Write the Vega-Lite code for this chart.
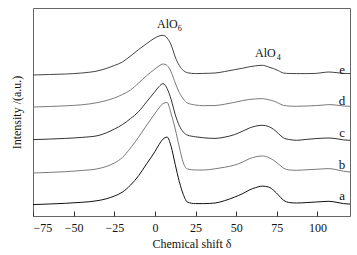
{
  "$schema": "https://vega.github.io/schema/vega-lite/v6.json",
  "width": 317,
  "height": 208,
  "autosize": {"type": "none"},
  "padding": {"left": 33, "top": 8, "right": 7, "bottom": 39},
  "background": "white",
  "config": {
    "view": {"stroke": "#666", "strokeWidth": 1},
    "font": "Liberation Serif",
    "text": {"font": "Liberation Serif"},
    "axis": {"labelFont": "Liberation Serif", "titleFont": "Liberation Serif", "labelFontSize": 12, "titleFontSize": 12, "titleFontWeight": "normal", "labelColor": "#111", "titleColor": "#111"}
  },
  "datasets": {
    "spectra": [
      {"shift": -75, "a": 11.4, "b": 43, "c": 76.4, "d": 109, "e": 141},
      {"shift": -65, "a": 12.0, "b": 43.6, "c": 76.9, "d": 109.5, "e": 141.5},
      {"shift": -55, "a": 12.7, "b": 44.3, "c": 77.6, "d": 110.2, "e": 142},
      {"shift": -45, "a": 13.7, "b": 45.5, "c": 78.6, "d": 111.2, "e": 143},
      {"shift": -35, "a": 15.4, "b": 47.3, "c": 80.4, "d": 113.5, "e": 145.2},
      {"shift": -25, "a": 19.9, "b": 53, "c": 86.9, "d": 118, "e": 150.5},
      {"shift": -20, "a": 23.9, "b": 58.5, "c": 91.4, "d": 121.5, "e": 154},
      {"shift": -15, "a": 30.9, "b": 68, "c": 97.4, "d": 126, "e": 160},
      {"shift": -10, "a": 40.4, "b": 79, "c": 104.4, "d": 133, "e": 166.5},
      {"shift": -5, "a": 52.4, "b": 91, "c": 114.4, "d": 140.5, "e": 172.5},
      {"shift": 0, "a": 64.4, "b": 102.5, "c": 124.4, "d": 147, "e": 178},
      {"shift": 2.5, "a": 71.4, "b": 108, "c": 129.4, "d": 150, "e": 180},
      {"shift": 5, "a": 76.9, "b": 112.5, "c": 132.4, "d": 152, "e": 180.7},
      {"shift": 7.5, "a": 78.9, "b": 113.5, "c": 127.4, "d": 150.5, "e": 178},
      {"shift": 10, "a": 69.4, "b": 102, "c": 116.4, "d": 144, "e": 171},
      {"shift": 12.5, "a": 51.4, "b": 87, "c": 101.4, "d": 133, "e": 159},
      {"shift": 15, "a": 34.4, "b": 69, "c": 90.4, "d": 123.5, "e": 150.5},
      {"shift": 17.5, "a": 21.4, "b": 53, "c": 83.9, "d": 117, "e": 145.5},
      {"shift": 20, "a": 13.9, "b": 47, "c": 80.9, "d": 113, "e": 143.3},
      {"shift": 25, "a": 12.4, "b": 46, "c": 79.2, "d": 111, "e": 142.4},
      {"shift": 30, "a": 12.4, "b": 46, "c": 78.2, "d": 110.3, "e": 142.6},
      {"shift": 37, "a": 13.0, "b": 47.2, "c": 77.6, "d": 110.5, "e": 143},
      {"shift": 43, "a": 15.4, "b": 48.8, "c": 78.9, "d": 111.8, "e": 144.5},
      {"shift": 49, "a": 18.9, "b": 50.9, "c": 81.4, "d": 113.7, "e": 146.3},
      {"shift": 54, "a": 22.4, "b": 54, "c": 84.9, "d": 115.4, "e": 147.8},
      {"shift": 58, "a": 25.9, "b": 57.2, "c": 87.9, "d": 116.5, "e": 149.2},
      {"shift": 62, "a": 28.4, "b": 59.2, "c": 89.9, "d": 117.1, "e": 150.2},
      {"shift": 66, "a": 29.9, "b": 60, "c": 90.7, "d": 117.4, "e": 150.7},
      {"shift": 70, "a": 28.9, "b": 58.5, "c": 89.4, "d": 116.2, "e": 149},
      {"shift": 73, "a": 25.7, "b": 55.7, "c": 86.7, "d": 115, "e": 147.4},
      {"shift": 76, "a": 20.9, "b": 52, "c": 82.4, "d": 112.8, "e": 145.3},
      {"shift": 79, "a": 15.9, "b": 48, "c": 78.2, "d": 110.7, "e": 143},
      {"shift": 83, "a": 13.4, "b": 46, "c": 76.4, "d": 109.9, "e": 142.5},
      {"shift": 87, "a": 13.0, "b": 45.7, "c": 75.7, "d": 109.7, "e": 142.4},
      {"shift": 93, "a": 13.4, "b": 46.2, "c": 76.6, "d": 110, "e": 142.4},
      {"shift": 99, "a": 14.0, "b": 46.7, "c": 77.4, "d": 110.4, "e": 142.6},
      {"shift": 104, "a": 14.5, "b": 47.2, "c": 77.9, "d": 111, "e": 143.6},
      {"shift": 107, "a": 14.7, "b": 47.4, "c": 78.0, "d": 111.4, "e": 144},
      {"shift": 112, "a": 13.6, "b": 46.2, "c": 77.2, "d": 110.8, "e": 143.3},
      {"shift": 116, "a": 12.4, "b": 44.8, "c": 76.1, "d": 110, "e": 142.6},
      {"shift": 120, "a": 11.9, "b": 44, "c": 75.7, "d": 109.7, "e": 142.4}
    ],
    "labels": [
      {"shift": 115.1, "y": 146.4, "text": "e"},
      {"shift": 115.1, "y": 115, "text": "d"},
      {"shift": 115.1, "y": 83.4, "text": "c"},
      {"shift": 115.1, "y": 51.4, "text": "b"},
      {"shift": 115.1, "y": 20, "text": "a"}
    ],
    "peaks": [
      {"shift": 7.7, "y": 187.7, "text": "AlO"},
      {"shift": 67.9, "y": 158.7, "text": "AlO"}
    ],
    "subs": [
      {"shift": 14.0, "y": 185.5, "text": "6"},
      {"shift": 75.0, "y": 156, "text": "4"}
    ]
  },
  "layer": [
    {
      "data": {"name": "spectra"},
      "transform": [{"fold": ["a", "b", "c", "d", "e"], "as": ["sample", "intensity"]}],
      "mark": {"type": "line", "interpolate": "monotone", "strokeWidth": 1, "clip": true},
      "encoding": {
        "x": {"field": "shift", "type": "quantitative", "scale": {"domain": [-75, 120], "nice": false, "zero": false},
              "axis": {"title": "Chemical shift δ", "values": [-75, -50, -25, 0, 25, 50, 75, 100], "grid": false, "domain": false, "zindex": 1, "ticks": true, "offset": -5, "tickSize": 5, "tickWidth": 1, "tickColor": "#333", "labelPadding": 6, "titlePadding": 5, "labelFont": "Liberation Serif", "titleFont": "Liberation Serif", "labelFontSize": 12}},
        "y": {"field": "intensity", "type": "quantitative", "scale": {"domain": [0, 208], "nice": false, "zero": false},
              "axis": {"title": "Intensity /(a.u.)", "labels": false, "ticks": false, "grid": false, "domain": false, "titlePadding": 10, "titleFont": "Liberation Serif"}},
        "color": {"field": "sample", "type": "nominal", "legend": null,
                  "scale": {"domain": ["a", "b", "c", "d", "e"], "range": ["#111111", "#7a7a7a", "#333333", "#7a7a7a", "#444444"]}}
      }
    },
    {
      "data": {"name": "labels"},
      "mark": {"type": "text", "fontSize": 13, "font": "Liberation Serif", "align": "center", "baseline": "middle", "color": "#111"},
      "encoding": {
        "x": {"field": "shift", "type": "quantitative"},
        "y": {"field": "y", "type": "quantitative"},
        "text": {"field": "text"}
      }
    },
    {
      "data": {"name": "peaks"},
      "mark": {"type": "text", "fontSize": 12, "font": "Liberation Serif", "align": "center", "baseline": "alphabetic", "color": "#111"},
      "encoding": {
        "x": {"field": "shift", "type": "quantitative"},
        "y": {"field": "y", "type": "quantitative"},
        "text": {"field": "text"}
      }
    },
    {
      "data": {"name": "subs"},
      "mark": {"type": "text", "fontSize": 8, "font": "Liberation Serif", "align": "left", "baseline": "alphabetic", "color": "#111"},
      "encoding": {
        "x": {"field": "shift", "type": "quantitative"},
        "y": {"field": "y", "type": "quantitative"},
        "text": {"field": "text"}
      }
    }
  ]
}
